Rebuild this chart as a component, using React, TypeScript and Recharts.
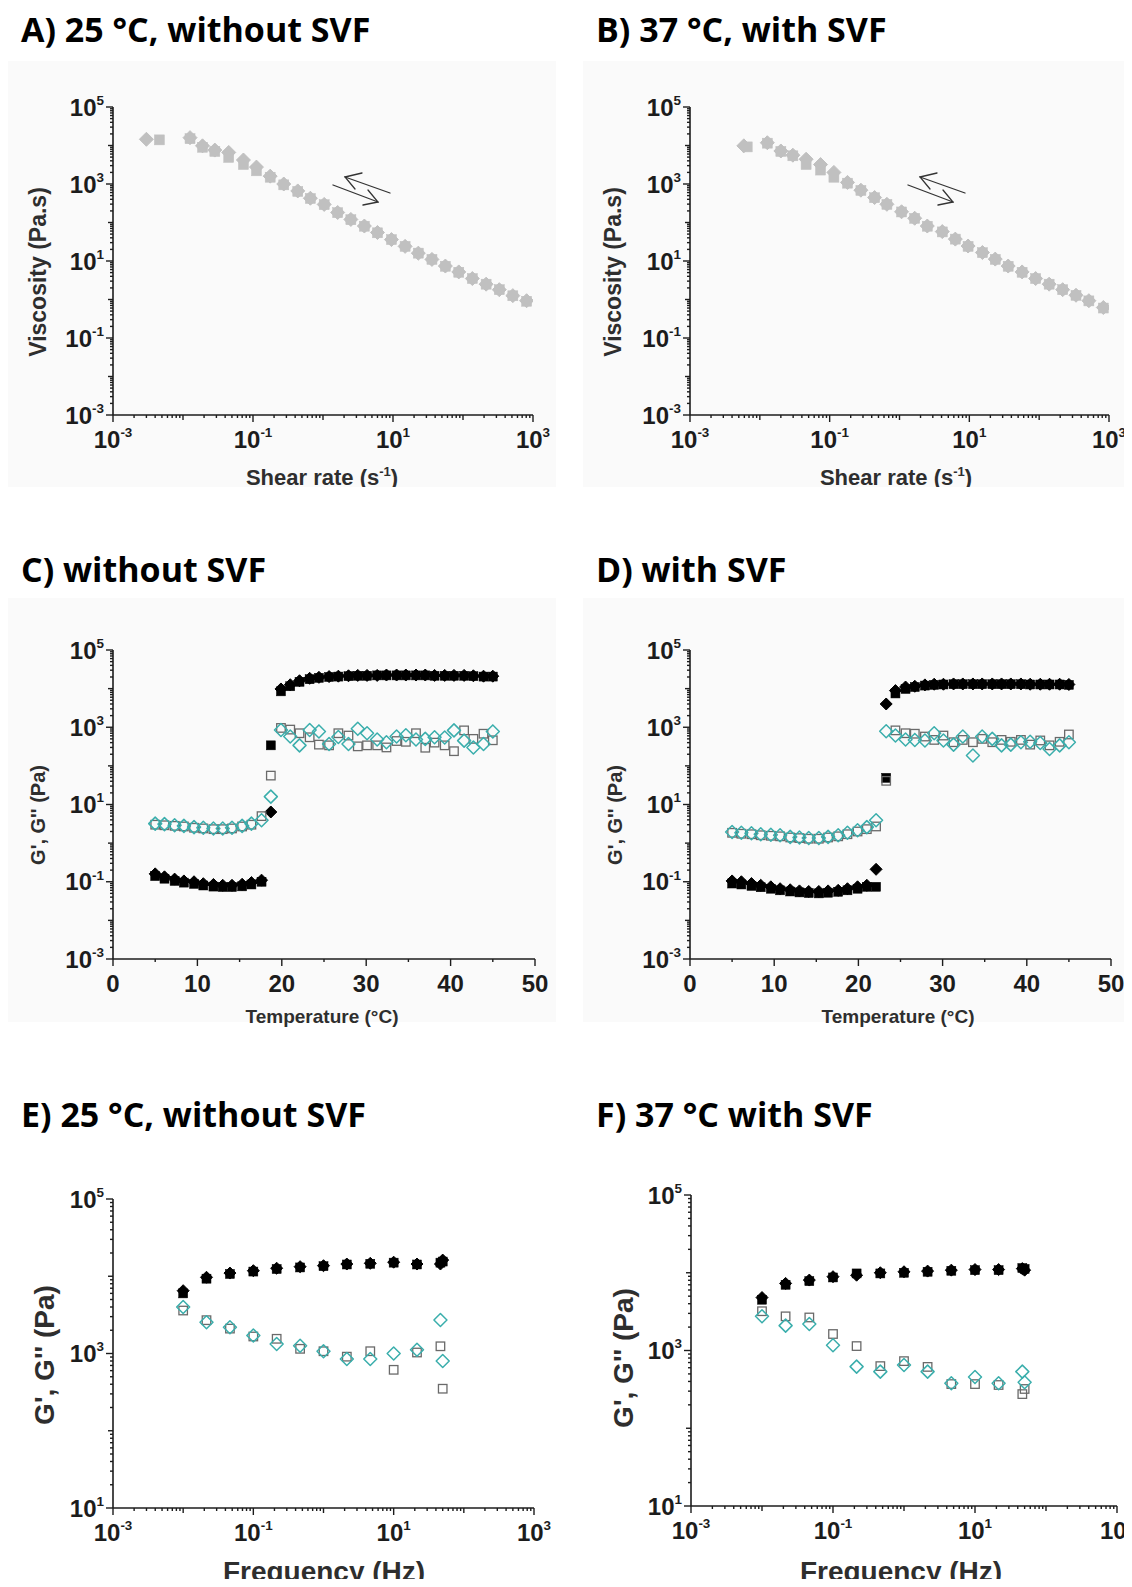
import React from 'react';
import { ScatterChart, Scatter, XAxis, YAxis } from 'recharts';

const FONT = '"Liberation Sans", Arial, sans-serif';
const TITLE_FONT = '"Open Sans", Lato, sans-serif';
const INK = '#1c1c1c';
const LABEL_INK = '#2e2e2e';
const GREY_FILL = '#c0c0c0';
const TEAL = '#3aaeac';
const SQUARE_GREY = '#6a6a6a';
const PANEL_BG = '#fafafa';

// A) shear sweep, 25 °C without SVF
const shearUpA = [0.003, 0.0126, 0.019, 0.0285, 0.045, 0.073, 0.112, 0.176, 0.275, 0.436, 0.66, 1.04, 1.62, 2.5, 3.9, 6.0, 9.5, 14.9, 23, 36, 56, 87, 136, 214, 330, 515, 810];
const viscUpA = [1.45e4, 1.6e4, 9.8e3, 7.6e3, 6.6e3, 4.2e3, 2.75e3, 1.6e3, 1.0e3, 660, 427, 295, 182, 120, 81, 55, 36, 24, 16, 11, 7.4, 5.2, 3.5, 2.5, 1.8, 1.26, 0.93];
const shearDownA = [0.0046, 0.0126, 0.019, 0.0285, 0.045, 0.073, 0.112, 0.176, 0.275, 0.436, 0.66, 1.04, 1.62, 2.5, 3.9, 6.0, 9.5, 14.9, 23, 36, 56, 87, 136, 214, 330, 515, 810];
const viscDownA = [1.4e4, 1.5e4, 9.0e3, 7.0e3, 4.9e3, 3.2e3, 2.2e3, 1.5e3, 950, 640, 420, 290, 180, 118, 80, 54, 36, 24, 16, 11, 7.3, 5.1, 3.5, 2.5, 1.8, 1.25, 0.9];

// B) shear sweep, 37 °C with SVF
const shearUpB = [0.0059, 0.0128, 0.02, 0.0297, 0.046, 0.074, 0.115, 0.18, 0.28, 0.44, 0.66, 1.07, 1.65, 2.5, 4.1, 6.3, 9.6, 15.4, 23.5, 36, 57, 89, 139, 217, 337, 515, 830];
const viscUpB = [9.8e3, 1.18e4, 7.2e3, 5.6e3, 4.4e3, 3.2e3, 2.0e3, 1.1e3, 690, 445, 297, 190, 129, 81, 58, 37, 24.5, 16.6, 11.2, 7.4, 5.2, 3.5, 2.5, 1.8, 1.29, 0.93, 0.62];
const shearDownB = [0.0066, 0.0128, 0.02, 0.0297, 0.046, 0.074, 0.115, 0.18, 0.28, 0.44, 0.66, 1.07, 1.65, 2.5, 4.1, 6.3, 9.6, 15.4, 23.5, 36, 57, 89, 139, 217, 337, 515, 830];
const viscDownB = [9.2e3, 1.15e4, 7.0e3, 5.4e3, 3.2e3, 2.3e3, 1.5e3, 1.05e3, 680, 440, 295, 188, 128, 80, 57, 37, 24, 16.5, 11, 7.3, 5.1, 3.5, 2.5, 1.8, 1.28, 0.92, 0.6];

// C, D) temperature ramps
const temperature = [5.0, 6.1, 7.3, 8.4, 9.6, 10.7, 11.9, 13.0, 14.1, 15.3, 16.4, 17.6, 18.7, 19.9, 21.0, 22.1, 23.3, 24.4, 25.6, 26.7, 27.9, 29.0, 30.1, 31.3, 32.4, 33.6, 34.7, 35.9, 37.0, 38.1, 39.3, 40.4, 41.6, 42.7, 43.9, 45.0];

const gpDiamondC = [0.16, 0.134, 0.117, 0.105, 0.1, 0.089, 0.085, 0.081, 0.081, 0.086, 0.095, 0.11, 6.4, 9.8e3, 1.26e4, 1.6e4, 1.85e4, 1.96e4, 2.05e4, 2.1e4, 2.15e4, 2.2e4, 2.2e4, 2.2e4, 2.25e4, 2.25e4, 2.25e4, 2.25e4, 2.25e4, 2.2e4, 2.2e4, 2.2e4, 2.2e4, 2.15e4, 2.1e4, 2.1e4];
const gpSquareC = [0.14, 0.12, 0.105, 0.095, 0.088, 0.08, 0.075, 0.073, 0.073, 0.076, 0.085, 0.1, 340, 8.5e3, 1.15e4, 1.5e4, 1.75e4, 1.9e4, 2.0e4, 2.05e4, 2.1e4, 2.15e4, 2.15e4, 2.2e4, 2.2e4, 2.2e4, 2.2e4, 2.2e4, 2.2e4, 2.15e4, 2.15e4, 2.15e4, 2.15e4, 2.1e4, 2.05e4, 2.05e4];
const gppDiamondC = [3.2, 3.1, 2.9, 2.8, 2.6, 2.5, 2.4, 2.4, 2.5, 2.8, 3.2, 3.9, 16, 850, 575, 340, 850, 780, 370, 560, 370, 910, 700, 480, 410, 575, 620, 480, 500, 550, 540, 830, 450, 300, 370, 780];
const gppSquareC = [3.0, 2.9, 2.8, 2.7, 2.5, 2.4, 2.3, 2.3, 2.4, 2.7, 3.0, 5.0, 56, 960, 870, 700, 550, 355, 340, 700, 610, 320, 340, 340, 300, 440, 420, 700, 295, 400, 340, 240, 830, 500, 680, 460];

const gpDiamondD = [0.105, 0.1, 0.09, 0.081, 0.074, 0.066, 0.062, 0.058, 0.056, 0.056, 0.058, 0.06, 0.066, 0.074, 0.081, 0.21, 4.0e3, 8.9e3, 1.1e4, 1.15e4, 1.25e4, 1.3e4, 1.3e4, 1.32e4, 1.32e4, 1.32e4, 1.32e4, 1.32e4, 1.32e4, 1.32e4, 1.32e4, 1.3e4, 1.3e4, 1.3e4, 1.3e4, 1.28e4];
const gpSquareD = [0.09, 0.085, 0.078, 0.072, 0.066, 0.06, 0.056, 0.053, 0.051, 0.05, 0.052, 0.055, 0.06, 0.066, 0.074, 0.074, 49, 7.5e3, 9.8e3, 1.1e4, 1.2e4, 1.25e4, 1.28e4, 1.3e4, 1.3e4, 1.3e4, 1.3e4, 1.3e4, 1.3e4, 1.3e4, 1.3e4, 1.28e4, 1.28e4, 1.28e4, 1.28e4, 1.25e4];
const gppDiamondD = [1.95, 1.85, 1.8, 1.7, 1.65, 1.6, 1.45, 1.4, 1.35, 1.35, 1.45, 1.6, 1.85, 2.15, 2.6, 3.9, 790, 610, 480, 470, 455, 700, 455, 355, 575, 185, 575, 500, 340, 355, 410, 420, 390, 275, 340, 410];
const gppSquareD = [1.85, 1.75, 1.7, 1.6, 1.55, 1.5, 1.4, 1.35, 1.3, 1.3, 1.4, 1.5, 1.7, 2.0, 2.3, 2.7, 41, 830, 700, 680, 575, 470, 610, 410, 470, 410, 500, 410, 470, 420, 470, 355, 455, 340, 420, 650];

// E, F) frequency sweeps
const frequency = [0.01, 0.0215, 0.0464, 0.1, 0.215, 0.464, 1, 2.15, 4.64, 10, 21.5, 46.4, 50];

const gpDiamondE = [6.5e3, 9.7e3, 1.1e4, 1.18e4, 1.27e4, 1.33e4, 1.37e4, 1.44e4, 1.47e4, 1.52e4, 1.44e4, 1.44e4, 1.62e4];
const gpSquareE = [6.0e3, 9.3e3, 1.07e4, 1.15e4, 1.24e4, 1.3e4, 1.35e4, 1.42e4, 1.45e4, 1.5e4, 1.42e4, 1.5e4, 1.55e4];
const gppDiamondE = [4.0e3, 2.54e3, 2.19e3, 1.71e3, 1.33e3, 1.26e3, 1.07e3, 850, 850, 1.0e3, 1.12e3, 2.72e3, 800];
const gppSquareE = [3.6e3, 2.7e3, 2.1e3, 1.66e3, 1.55e3, 1.15e3, 1.07e3, 910, 1.07e3, 615, 1.03e3, 1.24e3, 350];

const gpDiamondF = [4.8e3, 7.3e3, 8.05e3, 8.9e3, 9.3e3, 1.0e4, 1.03e4, 1.05e4, 1.08e4, 1.1e4, 1.1e4, 1.13e4, 1.08e4];
const gpSquareF = [4.5e3, 7.0e3, 7.8e3, 8.7e3, 9.8e3, 9.8e3, 1.0e4, 1.03e4, 1.06e4, 1.08e4, 1.08e4, 1.15e4, 1.12e4];
const gppDiamondF = [2.75e3, 2.09e3, 2.19e3, 1.17e3, 620, 535, 650, 535, 380, 455, 380, 535, 390];
const gppSquareF = [3.2e3, 2.75e3, 2.66e3, 1.63e3, 1.14e3, 630, 730, 615, 370, 370, 360, 275, 320];

// labelled decades (exponents) and linear tick labels
const viscosityExps = [-3, -1, 1, 3, 5];
const modulusExpsWide = [-3, -1, 1, 3, 5];
const modulusExpsNarrow = [1, 3, 5];
const rateExps = [-3, -1, 1, 3];
const tempLabels = [0, 10, 20, 30, 40, 50];

type Pt = { x: number; y: number };
const zip = (xs: number[], ys: number[]): Pt[] => xs.map((x, i) => ({ x, y: ys[i] }));

function logTicks(lo: number, hi: number) {
  const out: number[] = [];
  for (let e = lo; e < hi; e++) for (let m = 1; m < 10; m++) out.push(m * Math.pow(10, e));
  out.push(Math.pow(10, hi));
  return out;
}
const tempTicks = [0, 5, 10, 15, 20, 25, 30, 35, 40, 45, 50];

const diamond = (r: number, fill: string, stroke: string, sw: number) => (p: any) => (
  <path
    d={`M${p.cx},${p.cy - r}L${p.cx + r},${p.cy}L${p.cx},${p.cy + r}L${p.cx - r},${p.cy}Z`}
    fill={fill}
    stroke={stroke}
    strokeWidth={sw}
    strokeLinejoin="round"
  />
);
const square = (s: number, fill: string, stroke: string, sw: number) => (p: any) => (
  <rect x={p.cx - s / 2} y={p.cy - s / 2} width={s} height={s} fill={fill} stroke={stroke} strokeWidth={sw} />
);

const AxisTick = (props: any) => {
  const { x, y, payload, side, kind, labels, fs = 24 } = props;
  const v: number = payload.value;
  let major = false;
  let mid = false;
  let exp = 0;
  if (kind === 'log') {
    const e = Math.log10(v);
    exp = Math.round(e);
    mid = Math.abs(e - exp) < 1e-6;
    major = mid && labels.includes(exp);
  } else {
    major = labels.includes(v);
    mid = major;
  }
  const len = major ? 7 : mid ? 5 : 3;
  const label =
    kind === 'log' ? (
      <>
        10
        <tspan dy={-fs * 0.45} fontSize={fs * 0.56}>
          {exp}
        </tspan>
      </>
    ) : (
      String(v)
    );
  const textStyle = { fontFamily: FONT, fontWeight: 700, fontSize: fs, fill: INK };
  if (side === 'y') {
    return (
      <g>
        <line x1={x - len} x2={x} y1={y} y2={y} stroke={INK} strokeWidth={1.4} />
        {major && (
          <text x={x - 9} y={y + fs * 0.36} textAnchor="end" style={textStyle}>
            {label}
          </text>
        )}
      </g>
    );
  }
  return (
    <g>
      <line x1={x} x2={x} y1={y} y2={y + len} stroke={INK} strokeWidth={1.4} />
      {major && (
        <text x={x} y={y + 33} textAnchor="middle" style={textStyle}>
          {label}
        </text>
      )}
    </g>
  );
};

type Series = { data: Pt[]; shape: (p: any) => React.ReactElement };

const PAD_L = 90;
const PAD_T = 15;
const PAD_R = 45;
const PAD_B = 50;

type PanelProps = {
  left: number;
  top: number;
  width: number;
  height: number;
  xKind: 'log' | 'linear';
  xDomain: [number, number];
  xTicks: number[];
  xLabels: number[];
  yDomain: [number, number];
  yTicks: number[];
  yLabels: number[];
  series: Series[];
};

const Panel = (p: PanelProps) => (
  <div style={{ position: 'absolute', left: p.left - PAD_L, top: p.top - PAD_T }}>
    <ScatterChart
      width={p.width + PAD_L + PAD_R}
      height={p.height + PAD_T + PAD_B}
      margin={{ top: PAD_T, right: PAD_R, bottom: 0, left: 0 }}
    >
      <XAxis
        type="number"
        dataKey="x"
        scale={p.xKind === 'log' ? 'log' : 'linear'}
        domain={p.xDomain}
        allowDataOverflow
        ticks={p.xTicks}
        interval={0}
        tickSize={0}
        tickMargin={0}
        tickLine={false}
        axisLine={{ stroke: INK, strokeWidth: 1.6 }}
        height={PAD_B}
        tick={<AxisTick side="x" kind={p.xKind} labels={p.xLabels} />}
      />
      <YAxis
        type="number"
        dataKey="y"
        scale="log"
        domain={p.yDomain}
        allowDataOverflow
        ticks={p.yTicks}
        interval={0}
        tickSize={0}
        tickMargin={0}
        tickLine={false}
        axisLine={{ stroke: INK, strokeWidth: 1.6 }}
        width={PAD_L}
        tick={<AxisTick side="y" kind="log" labels={p.yLabels} />}
      />
      {p.series.map((s, i) => (
        <Scatter key={i} data={s.data} shape={s.shape} isAnimationActive={false} />
      ))}
    </ScatterChart>
  </div>
);

// marker styles
const viscDiamond = diamond(7, GREY_FILL, GREY_FILL, 1);
const viscSquare = square(10, GREY_FILL, GREY_FILL, 0.5);
const gpDia = diamond(6, '#000', '#000', 1);
const gpSq = square(9, '#000', '#000', 0.5);
const gppDia = diamond(6.5, 'none', TEAL, 1.5);
const gppSq = square(8.5, 'none', SQUARE_GREY, 1.3);

const shearSeries = (ux: number[], uy: number[], dx: number[], dy: number[]): Series[] => [
  { data: zip(dx, dy), shape: viscSquare },
  { data: zip(ux, uy), shape: viscDiamond },
];
const modulusSeries = (xs: number[], gpS: number[], gpD: number[], gppS: number[], gppD: number[]): Series[] => [
  { data: zip(xs, gpS), shape: gpSq },
  { data: zip(xs, gpD), shape: gpDia },
  { data: zip(xs, gppS), shape: gppSq },
  { data: zip(xs, gppD), shape: gppDia },
];

const titleStyle = { fontFamily: TITLE_FONT, fontWeight: 700, fontSize: 34, fill: '#000' } as const;
const labelStyle = (fs: number) => ({ fontFamily: FONT, fontWeight: 700, fontSize: fs, fill: LABEL_INK }) as const;

const Arrow = ({ dx }: { dx: number }) => (
  <g stroke="#333" strokeWidth={1.3} fill="none" strokeLinecap="round">
    <polyline points={`${390 + dx},193 ${345 + dx},177`} />
    <polyline points={`${362 + dx},173 ${345 + dx},177 ${355 + dx},189`} />
    <polyline points={`${333 + dx},185 ${378 + dx},202`} />
    <polyline points={`${368 + dx},190 ${378 + dx},202 ${363 + dx},205`} />
  </g>
);

export default function App() {
  const rateTicks = logTicks(-3, 3);
  const wideTicks = logTicks(-3, 5);
  const narrowTicks = logTicks(1, 5);
  return (
    <div style={{ position: 'relative', width: 1132, height: 1587, background: '#fff', overflow: 'hidden', margin: -8 }}>
      {/* faint panel backgrounds */}
      <div style={{ position: 'absolute', left: 8, top: 61, width: 548, height: 426, background: PANEL_BG }} />
      <div style={{ position: 'absolute', left: 583, top: 61, width: 545, height: 426, background: PANEL_BG }} />
      <div style={{ position: 'absolute', left: 8, top: 598, width: 548, height: 424, background: PANEL_BG }} />
      <div style={{ position: 'absolute', left: 583, top: 598, width: 545, height: 424, background: PANEL_BG }} />

      <Panel left={113} top={107} width={420} height={308} xKind="log" xDomain={[1e-3, 1e3]} xTicks={rateTicks} xLabels={rateExps}
        yDomain={[1e-3, 1e5]} yTicks={wideTicks} yLabels={viscosityExps} series={shearSeries(shearUpA, viscUpA, shearDownA, viscDownA)} />
      <Panel left={690} top={107} width={419} height={308} xKind="log" xDomain={[1e-3, 1e3]} xTicks={rateTicks} xLabels={rateExps}
        yDomain={[1e-3, 1e5]} yTicks={wideTicks} yLabels={viscosityExps} series={shearSeries(shearUpB, viscUpB, shearDownB, viscDownB)} />

      <Panel left={113} top={650} width={422} height={309} xKind="linear" xDomain={[0, 50]} xTicks={tempTicks} xLabels={tempLabels}
        yDomain={[1e-3, 1e5]} yTicks={wideTicks} yLabels={modulusExpsWide}
        series={modulusSeries(temperature, gpSquareC, gpDiamondC, gppSquareC, gppDiamondC)} />
      <Panel left={690} top={650} width={421} height={309} xKind="linear" xDomain={[0, 50]} xTicks={tempTicks} xLabels={tempLabels}
        yDomain={[1e-3, 1e5]} yTicks={wideTicks} yLabels={modulusExpsWide}
        series={modulusSeries(temperature, gpSquareD, gpDiamondD, gppSquareD, gppDiamondD)} />

      <Panel left={113} top={1199} width={421} height={309} xKind="log" xDomain={[1e-3, 1e3]} xTicks={rateTicks} xLabels={rateExps}
        yDomain={[1e1, 1e5]} yTicks={narrowTicks} yLabels={modulusExpsNarrow}
        series={modulusSeries(frequency, gpSquareE, gpDiamondE, gppSquareE, gppDiamondE)} />
      <Panel left={691} top={1195} width={426} height={311} xKind="log" xDomain={[1e-3, 1e3]} xTicks={rateTicks} xLabels={rateExps}
        yDomain={[1e1, 1e5]} yTicks={narrowTicks} yLabels={modulusExpsNarrow}
        series={modulusSeries(frequency, gpSquareF, gpDiamondF, gppSquareF, gppDiamondF)} />

      <svg width={1132} height={1587} style={{ position: 'absolute', left: 0, top: 0, pointerEvents: 'none' }}>
        <defs>
          <clipPath id="topRow">
            <rect x={0} y={0} width={1132} height={487} />
          </clipPath>
        </defs>

        <text x={21} y={42} style={titleStyle}>A) 25 °C, without SVF</text>
        <text x={596} y={42} style={titleStyle}>B) 37 °C, with SVF</text>
        <text x={21} y={582} style={titleStyle}>C) without SVF</text>
        <text x={596} y={582} style={titleStyle}>D) with SVF</text>
        <text x={21} y={1127} style={titleStyle}>E) 25 °C, without SVF</text>
        <text x={596} y={1127} style={titleStyle}>F) 37 °C with SVF</text>

        <Arrow dx={0} />
        <Arrow dx={575} />

        <text transform="translate(46,272) rotate(-90)" textAnchor="middle" style={labelStyle(23)}>Viscosity (Pa.s)</text>
        <text transform="translate(621,272) rotate(-90)" textAnchor="middle" style={labelStyle(23)}>Viscosity (Pa.s)</text>
        <g clipPath="url(#topRow)">
          <text x={322} y={485} textAnchor="middle" style={labelStyle(22)}>
            Shear rate (s<tspan dy={-9} fontSize={13}>-1</tspan><tspan dy={9}>)</tspan>
          </text>
          <text x={896} y={485} textAnchor="middle" style={labelStyle(22)}>
            Shear rate (s<tspan dy={-9} fontSize={13}>-1</tspan><tspan dy={9}>)</tspan>
          </text>
        </g>

        <text transform="translate(45,815) rotate(-90)" textAnchor="middle" style={labelStyle(20)}>G', G'' (Pa)</text>
        <text transform="translate(622,815) rotate(-90)" textAnchor="middle" style={labelStyle(20)}>G', G'' (Pa)</text>
        <text x={322} y={1023} textAnchor="middle" style={labelStyle(19)}>Temperature (°C)</text>
        <text x={898} y={1023} textAnchor="middle" style={labelStyle(19)}>Temperature (°C)</text>

        <text transform="translate(54,1355) rotate(-90)" textAnchor="middle" style={labelStyle(28)}>G', G'' (Pa)</text>
        <text transform="translate(633,1358) rotate(-90)" textAnchor="middle" style={labelStyle(28)}>G', G'' (Pa)</text>
        <text x={324} y={1581} textAnchor="middle" style={labelStyle(28)}>Frequency (Hz)</text>
        <text x={901} y={1581} textAnchor="middle" style={labelStyle(28)}>Frequency (Hz)</text>
      </svg>
    </div>
  );
}
